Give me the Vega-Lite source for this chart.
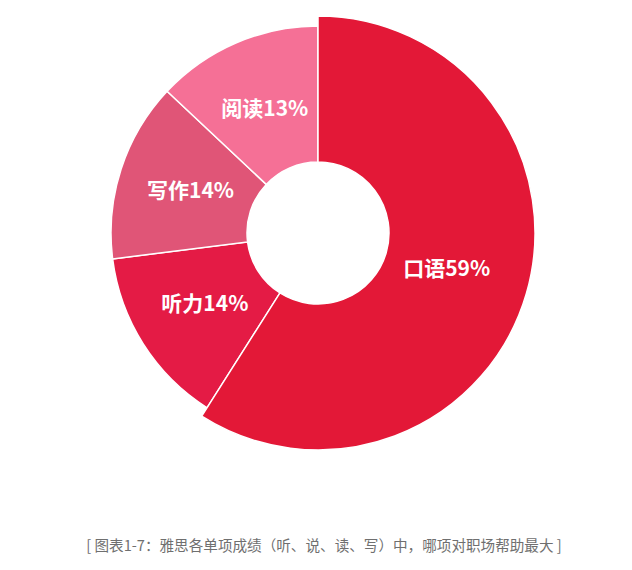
{
  "$schema": "https://vega.github.io/schema/vega-lite/v6.json",
  "width": 632,
  "height": 466,
  "padding": {"left": 2, "top": 0, "right": 0, "bottom": 0},
  "background": "white",
  "title": {
    "text": "[ 图表1-7：雅思各单项成绩（听、说、读、写）中，哪项对职场帮助最大 ]",
    "orient": "bottom",
    "offset": 73,
    "fontSize": 14.6,
    "fontWeight": "normal",
    "font": "Noto Sans CJK SC",
    "color": "#6f6f6f",
    "anchor": "middle",
    "dx": 6
  },
  "data": {
    "values": [
      {"skill": "口语", "pct": 59, "order": 1, "label": "口语59%"},
      {"skill": "听力", "pct": 14, "order": 2, "label": "听力14%"},
      {"skill": "写作", "pct": 14, "order": 3, "label": "写作14%"},
      {"skill": "阅读", "pct": 13, "order": 4, "label": "阅读13%"}
    ]
  },
  "encoding": {
    "theta": {"field": "pct", "type": "quantitative", "stack": true},
    "order": {"field": "order", "type": "quantitative"}
  },
  "layer": [
    {
      "mark": {"type": "arc", "innerRadius": 71, "outerRadius": 207, "stroke": "white", "strokeWidth": 1.5},
      "encoding": {
        "color": {
          "field": "skill",
          "type": "nominal",
          "scale": {"domain": ["口语", "听力", "写作", "阅读"], "range": ["#E31837", "#E41B45", "#E05577", "#F57096"]},
          "legend": null
        }
      }
    },
    {
      "mark": {"type": "arc", "innerRadius": 71, "outerRadius": 217, "stroke": "white", "strokeWidth": 1.5},
      "encoding": {
        "color": {
          "field": "skill",
          "type": "nominal",
          "scale": {"domain": ["口语", "听力", "写作", "阅读"], "range": ["#E31837", "#E41B45", "#E05577", "#F57096"]},
          "legend": null
        },
        "opacity": {"condition": {"test": "datum.skill === '口语'", "value": 1}, "value": 0}
      }
    },
    {
      "mark": {"type": "text", "radius": 134, "fontSize": 21, "letterSpacing": 0.6, "fontWeight": "bold", "font": "Noto Sans CJK SC", "fill": "white", "baseline": "middle"},
      "encoding": {
        "text": {"field": "label", "type": "nominal"}
      }
    }
  ]
}
